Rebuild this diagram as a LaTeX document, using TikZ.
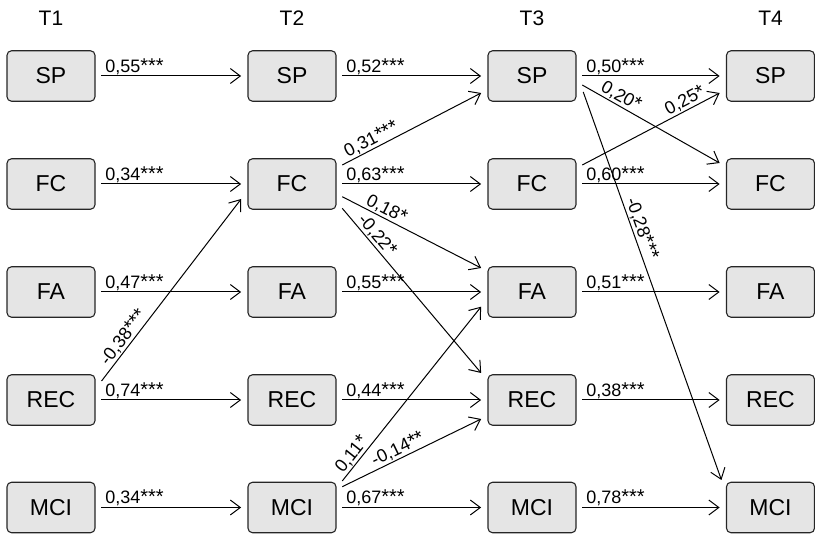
\documentclass[tikz,border=0pt]{standalone}
\usepackage{fontspec}
\setmainfont{Liberation Sans}
\usetikzlibrary{arrows.meta}
\newcommand\sg[1]{{\fontsize{20}{20}\selectfont #1}}
\begin{document}
\begin{tikzpicture}[x=1pt,y=-1pt,
  box/.style={draw=black!85, line width=1.1pt, fill=black!10, rounded corners=4.5pt,
    minimum width=88pt, minimum height=50.5pt, inner sep=0pt, font=\fontsize{23}{23}\selectfont},
  hdr/.style={font=\fontsize{21}{21}\selectfont, inner sep=0pt},
  arr/.style={line width=1pt, -{Straight Barb[length=10pt,width=15pt,line width=1pt]}},
  lab/.style={font=\fontsize{18}{18}\selectfont, inner sep=1pt},
  hl/.style={lab, pos=0, anchor=south west, inner xsep=3.5pt},
]
\useasboundingbox (0,0) rectangle (815,534);
\node[hdr] (T1) at (51,18) {T1};
\node[hdr] (T2) at (292,18) {T2};
\node[hdr] (T3) at (532,18) {T3};
\node[hdr] (T4) at (770.5,18) {T4};
\foreach \c/\x in {1/51,2/292,3/532,4/770.5}{
  \foreach \r/\y in {SP/76,FC/184,FA/292,REC/400,MCI/507.5}{
    \node[box] (\r\c) at (\x,\y) {\r};
  }
}
% horizontal arrows T1 -> T2
\draw[arr] ([xshift=5.7pt]SP1.east) -- node[hl]{0,55\sg{***}} ([xshift=-6.3pt]SP2.west);
\draw[arr] ([xshift=5.7pt]FC1.east) -- node[hl]{0,34\sg{***}} ([xshift=-6.3pt]FC2.west);
\draw[arr] ([xshift=5.7pt]FA1.east) -- node[hl]{0,47\sg{***}} ([xshift=-6.3pt]FA2.west);
\draw[arr] ([xshift=5.7pt]REC1.east) -- node[hl]{0,74\sg{***}} ([xshift=-6.3pt]REC2.west);
\draw[arr] ([xshift=5.7pt]MCI1.east) -- node[hl]{0,34\sg{***}} ([xshift=-6.3pt]MCI2.west);
% T2 -> T3
\draw[arr] ([xshift=5.7pt]SP2.east) -- node[hl]{0,52\sg{***}} ([xshift=-6.3pt]SP3.west);
\draw[arr] ([xshift=5.7pt]FC2.east) -- node[hl]{0,63\sg{***}} ([xshift=-6.3pt]FC3.west);
\draw[arr] ([xshift=5.7pt]FA2.east) -- node[hl]{0,55\sg{***}} ([xshift=-6.3pt]FA3.west);
\draw[arr] ([xshift=5.7pt]REC2.east) -- node[hl]{0,44\sg{***}} ([xshift=-6.3pt]REC3.west);
\draw[arr] ([xshift=5.7pt]MCI2.east) -- node[hl]{0,67\sg{***}} ([xshift=-6.3pt]MCI3.west);
% T3 -> T4
\draw[arr] ([xshift=5.7pt]SP3.east) -- node[hl]{0,50\sg{***}} ([xshift=-6.3pt]SP4.west);
\draw[arr] ([xshift=5.7pt]FC3.east) -- node[hl]{0,60\sg{***}} ([xshift=-6.3pt]FC4.west);
\draw[arr] ([xshift=5.7pt]FA3.east) -- node[hl]{0,51\sg{***}} ([xshift=-6.3pt]FA4.west);
\draw[arr] ([xshift=5.7pt]REC3.east) -- node[hl]{0,38\sg{***}} ([xshift=-6.3pt]REC4.west);
\draw[arr] ([xshift=5.7pt]MCI3.east) -- node[hl]{0,78\sg{***}} ([xshift=-6.3pt]MCI4.west);
% cross-lagged
\draw[arr] ([shift={(6,-19)}]REC1.east) -- node[lab,sloped,above,pos=0.21]{-0,38\sg{***}} ([shift={(-6.3,15)}]FC2.west);
\draw[arr] ([shift={(5.7,-19)}]FC2.east) -- node[lab,sloped,above,pos=0.24]{0,31\sg{***}} ([shift={(-6.3,17)}]SP3.west);
\draw[arr] ([shift={(5.7,12.7)}]FC2.east) -- node[lab,sloped,above,pos=0.29]{0,18\sg{*}} ([shift={(-6.3,-24)}]FA3.west);
\draw[arr] ([shift={(5.7,24.3)}]FC2.east) -- node[lab,sloped,above,pos=0.2]{-0,22\sg{*}} ([shift={(-6.3,-27)}]REC3.west);
\draw[arr] ([shift={(5.7,-26.5)}]MCI2.east) -- node[lab,sloped,above,pos=0.12]{0,11\sg{*}} ([shift={(-6.3,14.7)}]FA3.west);
\draw[arr] ([shift={(5.7,-20.8)}]MCI2.east) -- node[lab,sloped,above,pos=0.43]{-0,14\sg{**}} ([shift={(-6.3,19)}]REC3.west);
\draw[arr] ([shift={(5.7,9)}]SP3.east) -- node[lab,sloped,above,pos=0.25]{0,20\sg{*}} ([shift={(-6.3,-21)}]FC4.west);
\draw[arr] ([shift={(5.7,-19)}]FC3.east) -- node[lab,sloped,above,pos=0.78]{0,25\sg{*}} ([shift={(-6.3,17)}]SP4.west);
\draw[arr] ([shift={(6.7,16)}]SP3.east) -- node[lab,sloped,above,pos=0.36]{-0,28\sg{***}} ([shift={(-4.5,-27.5)}]MCI4.west);
\end{tikzpicture}
\end{document}
